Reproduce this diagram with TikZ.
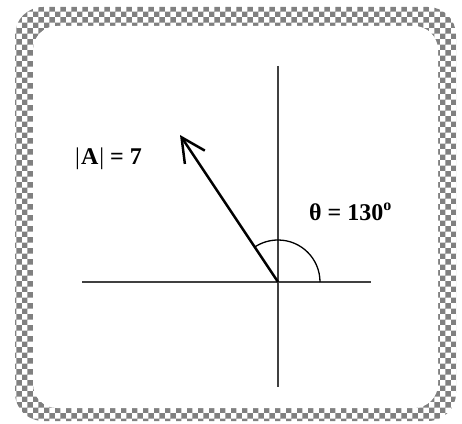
\documentclass[tikz,border=0pt]{standalone}
\usepackage{fontspec}
\setmainfont{Liberation Serif}
\usepackage{tikz}
\usetikzlibrary{arrows.meta, patterns}

\begin{document}
\begin{tikzpicture}[
  x=1pt, y=1pt,
  frame/.style={pattern=checkerboard, pattern color=gray, rounded corners=28pt},
  pane/.style={fill=white, rounded corners=24pt},
  axis/.style={line width=1.3pt, color=black!75},
  vect/.style={line width=2.5pt, line join=miter,
               -{Straight Barb[length=24pt, width=24pt, line width=2.5pt]}},
  anglearc/.style={line width=1.3pt},
  lbl/.style={font=\fontsize{24}{28}\selectfont\bfseries, inner sep=0pt, anchor=base west}
]
\useasboundingbox (0,0) rectangle (462,423);
% frame
\fill[frame] (15,2) rectangle (456,416);
\fill[pane] (33,15) rectangle (438,397);

% axes
\coordinate (O) at (278,141);
\coordinate (xl) at (82,141);
\coordinate (xr) at (371,141);
\coordinate (yt) at (278,357);
\coordinate (yb) at (278,36);
\draw[axis] (xl) -- (xr);
\draw[axis] (yt) -- (yb);

% vector and angle
\coordinate (tip) at (180,288);
\draw[anglearc] (O) ++(0:42pt) arc[start angle=0, end angle=124, radius=42pt];
\draw[vect] (O) -- (tip);

\node[lbl] (mag) at (75,258) {{\mdseries|}\kern1pt A\kern1pt{\mdseries|} = 7};
\node[lbl] (ang) at (309,202) {θ = 130\raisebox{0.45em}{\fontsize{16}{18}\selectfont o}};
\end{tikzpicture}
\end{document}
